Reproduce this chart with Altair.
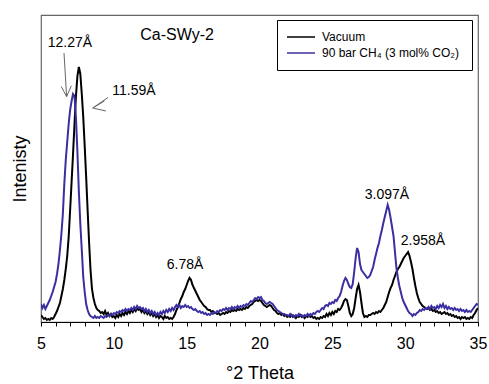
import altair as alt
import pandas as pd

# Diffraction angle grid (°2θ), 0.1° step from 5 to 35
theta = [round(5 + 0.1 * i, 1) for i in range(301)]

# Vacuum trace, intensity (a.u.) per grid point
vacuum = [
    7, 5, 3, 4, 2, 3, 2, 4, 3, 5,
    8, 11, 15, 19, 26, 33, 42, 53, 66, 85,
    112, 140, 168, 198, 226, 246, 255, 248, 228, 205,
    176, 145, 112, 80, 52, 33, 24, 18, 14, 12,
    11, 9, 10, 8, 11, 7, 9, 6, 8, 5,
    6, 4, 7, 5, 8, 6, 9, 7, 10, 8,
    11, 9, 12, 10, 13, 11, 14, 12, 13, 10,
    12, 9, 11, 8, 10, 7, 9, 6, 8, 5,
    7, 4, 6, 5, 3, 6, 4, 5, 3, 4,
    3, 5, 8, 12, 15, 19, 23, 26, 30, 33,
    37, 41, 44, 42, 37, 34, 31, 28, 25, 22,
    20, 18, 16, 15, 13, 12, 12, 10, 11, 9,
    9, 8, 9, 7, 8, 9, 8, 10, 9, 11,
    10, 12, 11, 12, 11, 13, 12, 13, 12, 14,
    13, 15, 14, 16, 17, 18, 20, 21, 22, 21,
    22, 21, 19, 17, 16, 15, 16, 17, 16, 14,
    12, 11, 9, 8, 9, 7, 8, 6, 7, 5,
    6, 5, 7, 5, 6, 4, 6, 5, 7, 5,
    6, 4, 6, 5, 7, 5, 6, 4, 5, 3,
    4, 3, 5, 4, 6, 5, 8, 6, 9, 7,
    10, 8, 11, 10, 13, 12, 14, 17, 21, 23,
    22, 16, 9, 6, 8, 14, 24, 33, 37, 30,
    19, 9, 5, 6, 5, 7, 7, 8, 9, 8,
    10, 9, 11, 10, 12, 14, 17, 20, 25, 30,
    34, 37, 42, 46, 50, 53, 55, 58, 61, 64,
    66, 68, 70, 66, 60, 53, 44, 36, 29, 24,
    20, 18, 16, 15, 14, 13, 14, 12, 13, 11,
    12, 10, 11, 9, 10, 8, 9, 10, 8, 9,
    7, 8, 6, 7, 5, 6, 4, 5, 3, 5,
    4, 5, 3, 4, 3, 5, 4, 7, 9, 12,
    14,
]

# 90 bar CH4 (3 mol% CO2) trace, intensity (a.u.) per grid point
methane = [
    18, 14, 17, 13, 16, 19, 22, 26, 30, 35,
    40, 48, 58, 72, 88, 108, 138, 162, 180, 198,
    212, 221, 228, 226, 204, 170, 130, 98, 72, 45,
    30, 18, 12, 8, 6, 5, 4, 6, 4, 5,
    4, 6, 5, 4, 6, 5, 7, 6, 8, 7,
    9, 8, 10, 9, 11, 10, 12, 11, 13, 11,
    13, 12, 14, 12, 15, 13, 16, 14, 15, 13,
    14, 11, 13, 10, 12, 9, 11, 8, 10, 7,
    9, 7, 10, 8, 11, 9, 12, 10, 13, 11,
    14, 12, 15, 17, 15, 17, 14, 16, 15, 17,
    15, 16, 14, 15, 13, 12, 13, 11, 10, 11,
    9, 10, 8, 9, 7, 8, 7, 9, 8, 10,
    9, 11, 10, 12, 11, 13, 12, 14, 12, 14,
    13, 15, 13, 15, 14, 16, 14, 16, 15, 17,
    16, 18, 17, 19, 21, 20, 22, 24, 23, 25,
    24, 25, 22, 21, 19, 18, 19, 20, 19, 18,
    16, 14, 12, 11, 10, 9, 8, 8, 7, 7,
    6, 8, 6, 7, 5, 7, 6, 8, 6, 7,
    5, 7, 6, 8, 6, 8, 7, 9, 8, 10,
    11, 10, 12, 14, 13, 16, 17, 16, 19, 18,
    20, 19, 22, 21, 24, 26, 30, 36, 41, 44,
    42, 38, 35, 34, 38, 50, 64, 74, 70, 58,
    52, 50, 48, 46, 44, 45, 47, 51, 55, 62,
    68, 74, 79, 86, 92, 99, 105, 111, 117, 112,
    104, 95, 86, 70, 54, 44, 36, 30, 24, 20,
    17, 14, 11, 9, 8, 6, 8, 7, 9, 10,
    12, 11, 13, 12, 14, 13, 15, 13, 16, 14,
    15, 13, 16, 14, 17, 15, 18, 14, 16, 13,
    15, 13, 14, 12, 14, 12, 13, 11, 13, 11,
    12, 10, 12, 10, 11, 10, 12, 14, 16, 18,
    17,
]

series_names = ["Vacuum", "90 bar  CH\u2084 (3 mol% CO\u2082)"]
series_colors = ["#000000", "#3a2fa0"]

# x-axis tick positions: every degree, labelled every fifth
tick_values = list(range(5, 36))

# d-spacing labels and the sample name
label_text = ["Ca-SWy-2", "12.27Å", "11.59Å", "6.78Å", "3.097Å", "2.958Å"]
label_x = [14.34, 6.99, 11.38, 14.89, 28.75, 31.22]
label_y = [287, 279, 231, 57, 127, 81]
label_size = [16, 14, 14, 14, 14, 14]

# arrow segments (shaft + two head strokes) pointing at the 001 peaks
arrow_x = [6.58, 6.76, 6.76, 9.60, 8.55, 8.55]
arrow_y = [269, 225.3, 225.3, 224.5, 214, 214]
arrow_x2 = [6.76, 7.08, 6.39, 8.55, 9.36, 9.46]
arrow_y2 = [225.3, 236.2, 235.5, 214, 221, 211]

FONT = "Liberation Sans"

traces = pd.DataFrame({
    "theta": theta * 2,
    "intensity": vacuum + methane,
    "sample": [series_names[0]] * len(theta) + [series_names[1]] * len(theta),
    "order": [0] * len(theta) + [1] * len(theta),
})
labels = pd.DataFrame({"x": label_x, "y": label_y, "text": label_text, "size": label_size})
arrows = pd.DataFrame({"x": arrow_x, "y": arrow_y, "x2": arrow_x2, "y2": arrow_y2})

x_scale = alt.Scale(domain=[5, 35], nice=False, zero=False)
y_scale = alt.Scale(domain=[0, 307], nice=False, zero=True)

x_axis = alt.Axis(
    title="°2 Theta",
    values=tick_values,
    labelExpr="datum.value % 5 === 0 ? format(datum.value, 'd') : ''",
    labelOverlap=False,
    labelSeparation=0,
    grid=False,
    tickSize=4,
    tickColor="#000000",
    domainColor="#000000",
    labelFontSize=16,
    titleFontSize=18,
    labelPadding=9,
    titlePadding=13,
    labelFlush=False,
)
y_axis = alt.Axis(
    title="Intenisty",
    labels=False,
    ticks=False,
    domain=False,
    grid=False,
    titleFontSize=18,
    titlePadding=12,
)

lines = alt.Chart(traces).mark_line(strokeWidth=2, clip=True).encode(
    x=alt.X("theta:Q", scale=x_scale, axis=x_axis),
    y=alt.Y("intensity:Q", scale=y_scale, axis=y_axis),
    color=alt.Color(
        "sample:N",
        scale=alt.Scale(domain=series_names, range=series_colors),
        sort=series_names,
        legend=alt.Legend(
            title=None,
            orient="none",
            legendX=236,
            legendY=5,
            symbolType="stroke",
            symbolSize=784,
            symbolStrokeWidth=1.5,
            clipHeight=16,
            labelFontSize=12,
            labelFont=FONT,
            labelOffset=6,
            strokeColor="#000000",
            fillColor="#ffffff",
            padding=9,
            rowPadding=0,
        ),
    ),
    detail="sample:N",
    order="order:Q",
)

arrow_marks = alt.Chart(arrows).mark_rule(color="#666666", strokeWidth=1).encode(
    x=alt.X("x:Q", scale=x_scale, axis=x_axis),
    y=alt.Y("y:Q", scale=y_scale, axis=y_axis),
    x2="x2:Q",
    y2="y2:Q",
)

text_marks = alt.Chart(labels).mark_text(font=FONT, color="#000000", baseline="middle").encode(
    x=alt.X("x:Q", scale=x_scale, axis=x_axis),
    y=alt.Y("y:Q", scale=y_scale, axis=y_axis),
    text="text:N",
    size=alt.Size("size:Q", scale=None, legend=None),
)

chart = (
    alt.layer(lines, arrow_marks, text_marks)
    .properties(
        width=437,
        height=307,
        autosize=alt.AutoSizeParams(type="none"),
        padding={"left": 41, "top": 15, "right": 11, "bottom": 62},
        background="#ffffff",
    )
    .configure_view(stroke="#666666", strokeWidth=1.2)
    .configure_axis(labelFont=FONT, titleFont=FONT, titleFontWeight="normal", labelColor="#000000", titleColor="#000000")
)

chart.save("out.html", embed_options={"renderer": "svg", "actions": False})
